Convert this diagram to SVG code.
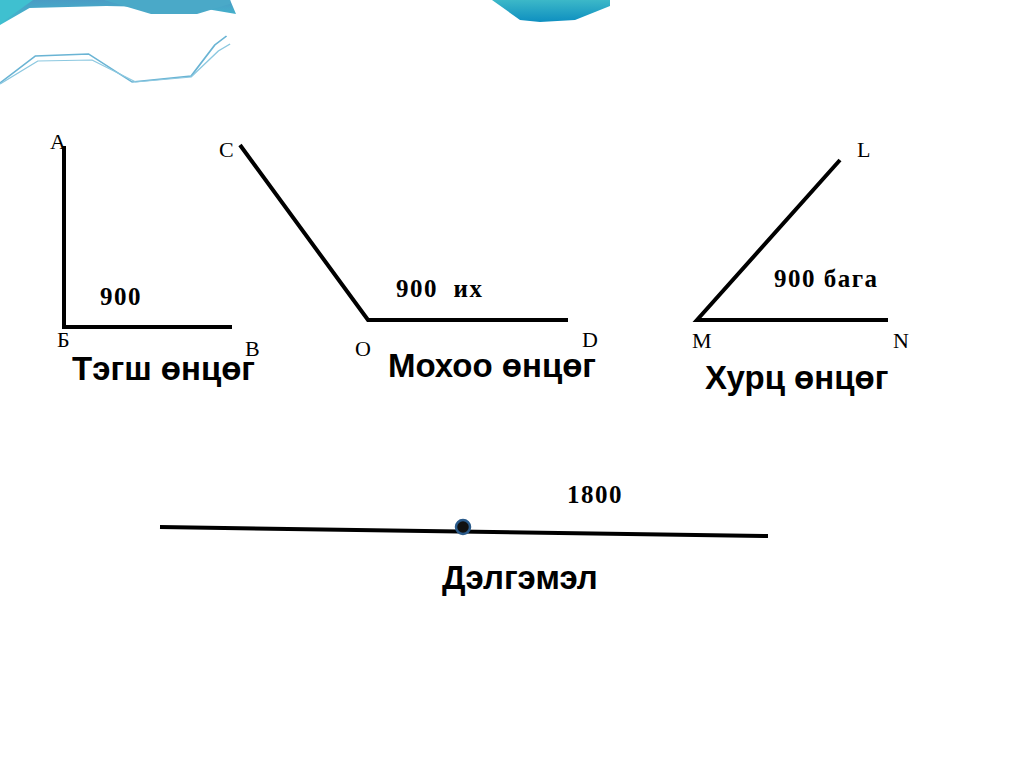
<svg xmlns="http://www.w3.org/2000/svg" width="1024" height="768" viewBox="0 0 1024 768">
<defs>
<linearGradient id="g1" x1="0" y1="0" x2="0" y2="1"><stop offset="0" stop-color="#4a9cc4"/><stop offset="1" stop-color="#3fc0d0"/></linearGradient>
<linearGradient id="g2" x1="0" y1="0" x2="0" y2="1"><stop offset="0" stop-color="#3cb8c8"/><stop offset="1" stop-color="#0e8fc0"/></linearGradient>
</defs>
<style>
.ln{stroke:#000;stroke-width:4;fill:none}
.lb{font-family:"Liberation Serif",serif;font-size:22px;fill:#000}
.n{font-family:"Liberation Serif",serif;font-size:25px;font-weight:bold;fill:#000;letter-spacing:1.5px}
.t{font-family:"Liberation Sans",Arial,sans-serif;font-size:33px;font-weight:bold;fill:#000}
</style>
<rect width="1024" height="768" fill="#fff"/>
<g id="decor">
<g transform="scale(1.18,1)">
<path d="M0,0 H195 L200,14 L170,8 L90,6 L25,8 L0,25 Z" fill="url(#g1)"/>
<path d="M88,0 L128,14 L167,14 L195,4 L195,0 Z" fill="#4aa9c8"/>
<path d="M0,0 L28,0 L0,24 Z" fill="#3fc0d0"/>
<polyline points="0,83 30,56 75,54 112,82 162,76 182,45 192,36" fill="none" stroke="#6ab4d4" stroke-width="1.5"/>
<polyline points="0,84 32,61 78,60 115,82 162,77 185,51 195,44" fill="none" stroke="#8cc8e0" stroke-width="1.2"/>
</g>
<path d="M492,0 L610,0 L610,6 L575,20 L540,22 L520,20 Z" fill="url(#g2)"/>
</g>
<g id="right-angle">
<polyline class="ln" points="64,146 64,327 232,327"/>
<text class="lb" x="50" y="149">А</text>
<text class="lb" x="57" y="347">Б</text>
<text class="lb" x="245" y="356">В</text>
<text class="n" x="100" y="305">900</text>
<text class="t" x="72" y="380">Тэгш өнцөг</text>
</g>
<g id="obtuse-angle">
<polyline class="ln" points="240,145 368,320 568,320"/>
<text class="lb" x="219" y="157">С</text>
<text class="lb" x="355" y="356">О</text>
<text class="lb" x="582" y="347">D</text>
<text class="n" x="396" y="297" xml:space="preserve">900  их</text>
<text class="t" x="388" y="377">Мохоо өнцөг</text>
</g>
<g id="obtuse-angle-end"/>
<g id="acute-angle">
<polyline class="ln" points="840,160 697,320 888,320"/>
<text class="lb" x="857" y="157">L</text>
<text class="lb" x="692" y="348">M</text>
<text class="lb" x="893" y="348">N</text>
<text class="n" x="774" y="287">900 бага</text>
<text class="t" x="705" y="389">Хурц өнцөг</text>
</g>
<g id="straight-angle">
<line class="ln" x1="160" y1="527" x2="768" y2="536"/>
<circle cx="463" cy="527" r="7" fill="#111" stroke="#2a5a8a" stroke-width="2.5"/>
<text class="n" x="567" y="503">1800</text>
<text class="t" x="442" y="589">Дэлгэмэл</text>
</g>
</svg>
